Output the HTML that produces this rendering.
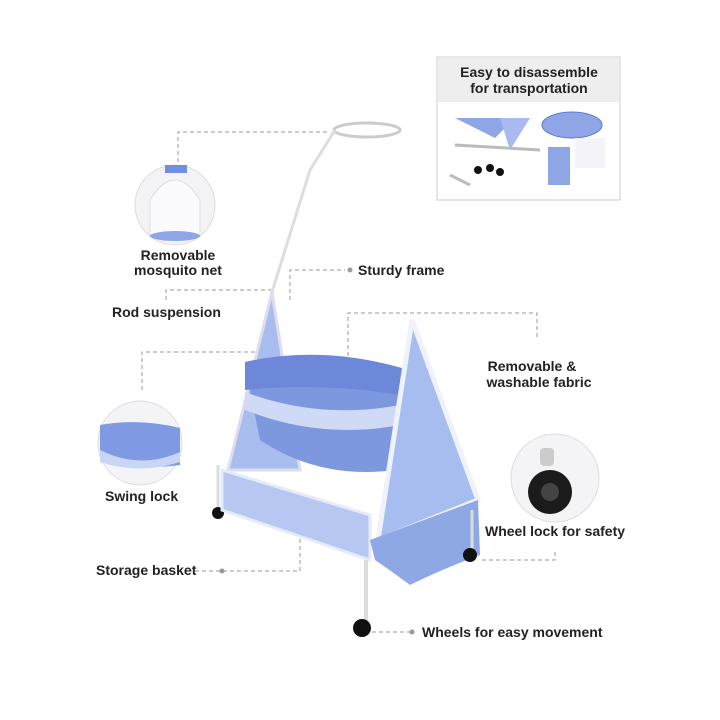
<!DOCTYPE html>
<html><head><style>
html,body{margin:0;padding:0;background:#fff;}
svg{display:block;}
text{font-family:"Liberation Sans",sans-serif;font-size:14px;fill:#222;font-weight:bold;}
</style></head><body>
<svg width="720" height="720" viewBox="0 0 720 720" xmlns="http://www.w3.org/2000/svg">
<rect width="720" height="720" fill="#fff"/>
<!-- top right box -->
<rect x="437" y="57" width="183" height="143" fill="#fff" stroke="#ccc"/>
<rect x="438" y="58" width="181" height="44" fill="#eeeeee"/>
<text x="529" y="77" text-anchor="middle">Easy to disassemble</text>
<text x="529" y="93" text-anchor="middle">for transportation</text>
<polygon points="455,118 515,118 495,138" fill="#8fa6e6"/>
<polygon points="500,118 530,118 510,150" fill="#a9bbee"/>
<ellipse cx="572" cy="125" rx="30" ry="13" fill="#8fa6e6" stroke="#5d79cf"/>
<line x1="455" y1="145" x2="540" y2="150" stroke="#bbb" stroke-width="3"/>
<line x1="450" y1="175" x2="470" y2="185" stroke="#bbb" stroke-width="3"/>
<circle cx="478" cy="170" r="4" fill="#111"/><circle cx="490" cy="168" r="4" fill="#111"/><circle cx="500" cy="172" r="4" fill="#111"/>
<rect x="548" y="147" width="22" height="38" fill="#8fa6e6"/>
<rect x="575" y="138" width="30" height="30" fill="#f4f4f8"/>
<!-- connectors -->
<g stroke="#999" stroke-dasharray="4,3" fill="none" stroke-width="1">
<polyline points="178,162 178,132 330,132"/>
<polyline points="290,300 290,270 345,270"/>
<polyline points="166,300 166,290 272,290"/>
<polyline points="348,370 348,313 537,313 537,340"/>
<polyline points="142,390 142,352 272,352"/>
<polyline points="188,571 300,571 300,530"/>
<polyline points="555,552 555,560 480,560"/>
<polyline points="372,632 410,632"/>
</g>
<g fill="#999"><circle cx="222" cy="571" r="2.5"/><circle cx="412" cy="632" r="2.5"/><circle cx="350" cy="270" r="2.5"/></g>
<!-- circles -->
<circle cx="175" cy="205" r="40" fill="#f3f3f5" stroke="#ddd"/>
<path d="M150,200 Q175,160 200,200 L200,235 L150,235Z" fill="#fbfbfd" stroke="#ddd"/>
<rect x="165" y="165" width="22" height="8" fill="#6f8fe0"/>
<ellipse cx="175" cy="236" rx="25" ry="5" fill="#8fa6e6"/>
<circle cx="140" cy="443" r="42" fill="#f4f4f6" stroke="#ddd"/>
<path d="M100,425 Q140,418 180,428 L180,465 Q140,470 100,462Z" fill="#7f9ae3"/>
<path d="M100,450 Q140,470 180,452 L180,462 Q140,475 100,462Z" fill="#c9d5f5"/>
<circle cx="555" cy="478" r="44" fill="#f4f4f6" stroke="#ddd"/>
<circle cx="550" cy="492" r="22" fill="#1b1b1b"/><circle cx="550" cy="492" r="9" fill="#444"/>
<rect x="540" y="448" width="14" height="18" rx="4" fill="#ccc"/>
<!-- labels -->
<text x="178" y="260" text-anchor="middle">Removable</text>
<text x="178" y="275" text-anchor="middle">mosquito net</text>
<text x="358" y="275">Sturdy frame</text>
<text x="112" y="317">Rod suspension</text>
<text x="532" y="371" text-anchor="middle">Removable &amp;</text>
<text x="539" y="387" text-anchor="middle">washable fabric</text>
<text x="105" y="501">Swing lock</text>
<text x="485" y="536">Wheel lock for safety</text>
<text x="96" y="575">Storage basket</text>
<text x="422" y="637">Wheels for easy movement</text>
<!-- cradle rod and ring -->
<ellipse cx="367" cy="130" rx="33" ry="7" fill="none" stroke="#ccc" stroke-width="3"/>
<polyline points="335,130 310,170 272,292" fill="none" stroke="#ddd" stroke-width="3"/>
<!-- left A frame -->
<polygon points="272,292 228,470 300,470" fill="#a9bcee" stroke="#dde" stroke-width="3"/>
<line x1="218" y1="465" x2="218" y2="512" stroke="#ddd" stroke-width="3"/>
<circle cx="218" cy="513" r="6" fill="#111"/>
<!-- basket base -->
<polygon points="222,470 370,515 370,560 222,510" fill="#b8c7f2" stroke="#e6ebf8" stroke-width="3"/>
<!-- basket -->
<path d="M245,365 Q320,350 400,368 L395,470 Q320,480 260,440Z" fill="#7e98e0"/>
<path d="M245,362 Q320,345 402,368 L400,395 Q320,382 245,390Z" fill="#6d88d8"/>
<path d="M245,392 Q320,420 400,405 L400,425 Q320,440 245,410Z" fill="#cfdaf6"/>
<!-- right A frame -->
<polygon points="412,320 378,540 478,500" fill="#a8bdef" stroke="#f0f2fa" stroke-width="5"/>
<path d="M370,540 L478,500 L480,555 Q440,570 410,585 Q390,570 375,560Z" fill="#8ea8e6"/>
<line x1="366" y1="560" x2="366" y2="622" stroke="#ddd" stroke-width="4"/>
<line x1="472" y1="510" x2="472" y2="550" stroke="#ddd" stroke-width="3"/>
<circle cx="362" cy="628" r="9" fill="#111"/>
<circle cx="470" cy="555" r="7" fill="#111"/>
</svg>
</body></html>
